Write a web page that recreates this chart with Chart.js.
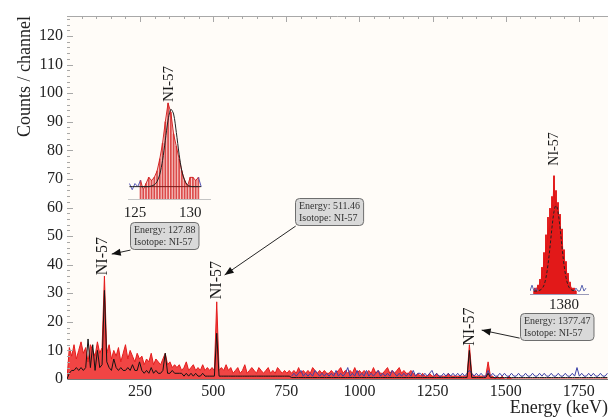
<!DOCTYPE html>
<html>
<head>
<meta charset="utf-8">
<script src="https://cdn.jsdelivr.net/npm/chart.js@4/dist/chart.umd.min.js"></script>
<style>
  html, body { margin: 0; padding: 0; background: #fff; }
  #wrap { position: relative; width: 608px; height: 417px; overflow: hidden; }
  #main { position: absolute; left: 0; top: 0; }
  #inset1 { position: absolute; left: 118px; top: 60px; }
  #inset2 { position: absolute; left: 522px; top: 122px; }
</style>
</head>
<body>
<div id="wrap">
  <canvas id="main" width="608" height="417"></canvas>
  <canvas id="inset1" width="100" height="165"></canvas>
  <canvas id="inset2" width="76" height="190"></canvas>
</div>
<script>
// Spectrum, 8 keV per channel, starting at 0 keV
const channelKeV = 8;
const energyTicks = [250, 500, 750, 1000, 1250, 1500, 1750];

const redCounts = [
  0, 11, 8, 12, 7, 10, 13, 9, 11, 6, 12, 10, 8, 13, 9, 11,
  36, 9, 12, 7, 10, 8, 11, 6, 9, 12, 7, 10, 8, 6, 9, 7,
  8, 5, 7, 6, 9, 5, 7, 6, 5, 7, 9, 5, 6, 4, 5, 4,
  5, 3, 4, 6, 3, 4, 5, 3, 4, 3, 5, 3, 4, 3, 4, 3,
  27, 3, 4, 3, 5, 3, 4, 2, 3, 4, 2, 3, 5, 2, 3, 4,
  3, 2, 4, 3, 2, 3, 4, 2, 3, 2, 4, 3, 2, 3, 2, 3,
  2, 3, 2, 4, 2, 3, 2, 3, 2, 4, 3, 2, 3, 2, 3, 2,
  2, 3, 2, 2, 3, 4, 2, 3, 2, 3, 2, 4, 2, 3, 2, 3,
  2, 3, 2, 4, 2, 3, 2, 2, 3, 4, 2, 3, 2, 3, 4, 2,
  3, 2, 2, 3, 2, 1, 2, 1, 2, 1, 1, 2, 1, 1, 2, 1,
  1, 1, 1, 2, 1, 1, 1, 1, 1, 1, 1, 1, 12, 2, 1, 1,
  1, 1, 1, 1, 6, 1, 1, 0, 1, 0, 1, 0, 0, 1, 0, 0,
  0, 0, 0, 0, 0, 0, 0, 0, 0, 0, 0, 0, 0, 0, 0, 0,
  0, 0, 0, 0, 0, 0, 0, 0, 0, 0, 0, 0, 0, 0, 0, 0,
  0, 0, 0, 0, 0, 0, 0, 0
];

const blackCounts = [
  0, 2, 3, 3, 4, 3, 4, 3, 4, 14, 4, 12, 3, 10, 4, 5,
  31, 6, 4, 3, 7, 4, 3, 4, 3, 3, 4, 3, 5, 3, 3, 6,
  3, 2, 3, 2, 4, 2, 3, 2, 2, 3, 9, 2, 2, 3, 2, 2,
  2, 2, 1, 2, 1, 2, 1, 2, 1, 1, 2, 1, 1, 1, 1, 1,
  16, 1, 1, 1, 1, 1, 1, 1, 1, 1, 1, 1, 1, 1, 1, 1,
  1, 1, 1, 1, 1, 1, 1, 1, 1, 1, 1, 1, 1, 1, 1, 1,
  0.5, 0.5, 0.5, 0.5, 0.5, 0.5, 0.5, 0.5, 0.5, 0.5, 0.5, 0.5, 0.5, 0.5, 0.5, 0.5,
  0.5, 0.5, 0.5, 0.5, 0.5, 0.5, 0.5, 0.5, 0.5, 0.5, 0.5, 0.5, 0.5, 0.5, 0.5, 0.5,
  0.5, 0.5, 0.5, 0.5, 0.5, 0.5, 0.5, 0.5, 0.5, 0.5, 0.5, 0.5, 0.5, 0.5, 0.5, 0.5,
  0.5, 0.5, 0.5, 0.5, 0.5, 0.5, 0.5, 0.5, 0.5, 0.5, 0.5, 0.5, 0.5, 0.5, 0.5, 0.5,
  0.5, 0.5, 0.5, 0.5, 0.5, 0.5, 0.5, 0.5, 0.5, 0.5, 0.5, 0.5, 10, 0.5, 0.5, 0.5,
  0.5, 0.5, 0.5, 0.5, 2, 0.5, 0.5, 0.5, 0.5, 0.5, 0.5, 0.5, 0.5, 0.5, 0.5, 0.5,
  0.5, 0.5, 0.5, 0.5, 0.5, 0.5, 0.5, 0.5, 0.5, 0.5, 0.5, 0.5, 0.5, 0.5, 0.5, 0.5,
  0.5, 0.5, 0.5, 0.5, 0.5, 0.5, 0.5, 0.5, 0.5, 0.5, 0.5, 0.5, 0.5, 0.5, 0.5, 0.5,
  0.5, 0.5, 0.5, 0.5, 0.5, 0.5, 0.5, 0.5
];

// second (blue) spectrum only from 768 keV on
const blueStartKeV = 768;
const blueCounts = [
  1, 2, 1, 2, 3, 1, 2, 1, 2, 1, 3, 2, 1, 2, 1, 2,
  1, 2, 1, 3, 1, 2, 1, 2, 4, 1, 2, 1, 3, 1, 2, 1,
  3, 1, 2, 1, 2, 3, 1, 2, 1, 2, 1, 3, 2, 1, 2, 1,
  2, 1, 2, 1, 3, 1, 2, 2, 1, 2, 1, 2, 3, 1, 2, 1,
  1, 2, 1, 2, 1, 2, 1, 2, 1, 2, 1, 2, 3, 2, 1, 2,
  1, 2, 1, 1, 3, 1, 2, 1, 1, 2, 1, 2, 1, 1, 2, 1,
  1, 2, 1, 1, 2, 1, 1, 2, 1, 1, 2, 1, 2, 1, 1, 2,
  1, 1, 2, 1, 1, 2, 1, 1, 2, 1, 4, 1, 2, 1, 1, 2,
  1, 2, 1, 1, 2, 1, 1, 2
];

// Inset around 127.88 keV
const inset1Energy = [124.5, 124.75, 125, 125.25, 125.5, 125.75, 126, 126.25, 126.5, 126.75,
  127, 127.25, 127.5, 127.75, 128, 128.25, 128.5, 128.75, 129, 129.25,
  129.5, 129.75, 130, 130.25, 130.5, 130.75, 131];
const inset1Counts = [5, 3, 5, 4, 6, 3, 5, 7, 6, 7, 9, 13, 18, 25, 31, 28, 21, 17, 13, 9, 6, 4, 7, 7, 6, 7, 4];
const inset1Fit = [4, 4, 4, 4, 4, 4, 4, 4, 4.2, 4.6, 5.6, 8, 12.5, 19, 25.5, 29, 27.5, 21.5, 14.5, 9, 6, 4.6, 4.1, 4, 4, 4, 4];
const inset1Roi = [125.5, 130.75];
const inset1Background = 4;
const inset1Ticks = [125, 130];

// Inset around 1377.47 keV
const inset2Energy = [1372.5, 1372.75, 1373, 1373.25, 1373.5, 1373.75, 1374, 1374.25, 1374.5, 1374.75,
  1375, 1375.25, 1375.5, 1375.75, 1376, 1376.25, 1376.5, 1376.75, 1377, 1377.25,
  1377.5, 1377.75, 1378, 1378.25, 1378.5, 1378.75, 1379, 1379.25, 1379.5, 1379.75,
  1380, 1380.25, 1380.5, 1380.75, 1381, 1381.25, 1381.5, 1381.75, 1382, 1382.25,
  1382.5, 1382.75, 1383];
const inset2Counts = [1, 2, 1, 2, 3, 2, 5, 3, 9, 6, 14, 8, 20, 12, 26, 15, 29, 22, 33, 30,
  40, 27, 35, 24, 31, 20, 27, 16, 22, 12, 15, 9, 11, 5, 7, 3, 4, 2, 2, 1, 2, 1, 1];
const inset2Fit = [1, 1, 1, 1, 1.1, 1.2, 1.3, 1.5, 1.8, 2.3, 3, 4.1, 5.6, 7.5, 9.9, 12.7, 15.9, 19.3, 22.6, 25.6,
  27.9, 29.5, 30, 29.5, 27.9, 25.6, 22.6, 19.3, 15.9, 12.7, 9.9, 7.5, 5.6, 4.1, 3, 2.3, 1.8, 1.5, 1.3, 1.2, 1.1, 1, 1];
const inset2BlueEnergy = [1371.5, 1372, 1372.5, 1373, 1373.5, 1374, 1382, 1382.5, 1383, 1383.5, 1384, 1384.5, 1385, 1385.5];
const inset2BlueCounts = [1, 3, 1, 2, 1, null, null, 1, 2, 1, 1, 3, 1, 2];
const inset2Ticks = [1380];

const serif = "'Liberation Serif', 'DejaVu Serif', serif";

const toPoints = (start, arr) => arr.map((v, i) => ({x: start + i * channelKeV, y: v}));
const pair = (xs, ys) => xs.map((x, i) => ({x: x, y: ys[i]}));
const fixedTicks = list => s => { s.ticks = list.map(v => ({value: v})); };
const plain = v => String(v);

// peak notes (positions in keV / counts)
const notes = [
  {label: [121, 43], head: [153, 43.7], tail: [217, 45.1], box: [214, 54.9], lines: ['Energy: 127.88', 'Isotope: NI-57']},
  {label: [513, 34.6], head: [539, 36.4], tail: [782, 53.5], box: [778, 63.3], lines: ['Energy: 511.46', 'Isotope: NI-57']},
  {label: [1377, 18.3], head: [1418, 17.1], tail: [1548, 14.3], box: [1548, 23.1], lines: ['Energy: 1377.47', 'Isotope: NI-57']}
];

function drawArrow(ctx, x1, y1, x2, y2){
  const a = Math.atan2(y2 - y1, x2 - x1);
  ctx.beginPath(); ctx.moveTo(x1, y1); ctx.lineTo(x2, y2); ctx.stroke();
  ctx.beginPath();
  ctx.moveTo(x2, y2);
  ctx.lineTo(x2 - 9 * Math.cos(a) + 3.5 * Math.sin(a), y2 - 9 * Math.sin(a) - 3.5 * Math.cos(a));
  ctx.lineTo(x2 - 9 * Math.cos(a) - 3.5 * Math.sin(a), y2 - 9 * Math.sin(a) + 3.5 * Math.cos(a));
  ctx.closePath(); ctx.fill();
}

function vText(ctx, text, x, y, size){
  ctx.save();
  ctx.translate(x, y); ctx.rotate(-Math.PI / 2);
  ctx.font = size + 'px ' + serif;
  ctx.textAlign = 'center'; ctx.textBaseline = 'middle';
  ctx.fillStyle = '#1a1a1a';
  ctx.fillText(text, 0, 0);
  ctx.restore();
}

const decor = {
  id: 'decor',
  beforeDatasetsDraw(chart){
    const {ctx, chartArea: a} = chart;
    ctx.save(); ctx.fillStyle = '#fffcf8';
    ctx.fillRect(a.left, a.top, a.right - a.left, a.bottom - a.top);
    ctx.restore();
  },
  afterDraw(chart){
    const {ctx, chartArea: a, scales: {x, y}} = chart;
    ctx.save();
    // frame with inward ticks
    ctx.strokeStyle = '#a8a8a8'; ctx.lineWidth = 1;
    ctx.beginPath(); ctx.moveTo(a.left, a.top + 0.5); ctx.lineTo(a.right, a.top + 0.5); ctx.stroke();
    ctx.beginPath();
    for (let v = 50; v < x.max; v += 50){
      const px = Math.round(x.getPixelForValue(v)) + 0.5;
      ctx.moveTo(px, a.top); ctx.lineTo(px, a.top + (v % 250 === 0 ? 6 : 3));
    }
    for (let v = 2; v < y.max; v += 2){
      const py = Math.round(y.getPixelForValue(v)) + 0.5;
      ctx.moveTo(a.left, py); ctx.lineTo(a.left + (v % 10 === 0 ? 6 : 3), py);
    }
    ctx.stroke();
    // notes
    notes.forEach(n => {
      vText(ctx, 'NI-57', x.getPixelForValue(n.label[0]), y.getPixelForValue(n.label[1]), 16);
      ctx.strokeStyle = '#262626'; ctx.fillStyle = '#111'; ctx.lineWidth = 1;
      drawArrow(ctx, x.getPixelForValue(n.tail[0]), y.getPixelForValue(n.tail[1]),
        x.getPixelForValue(n.head[0]), y.getPixelForValue(n.head[1]));
      ctx.font = '10px ' + serif;
      const w = Math.max(...n.lines.map(t => ctx.measureText(t).width)) + 7;
      const bx = Math.round(x.getPixelForValue(n.box[0])) + 0.5, by = Math.round(y.getPixelForValue(n.box[1])) + 0.5;
      ctx.beginPath(); ctx.roundRect(bx, by, w, 27, 4);
      ctx.fillStyle = '#d9d9d9'; ctx.fill();
      ctx.strokeStyle = '#6e6e6e'; ctx.stroke();
      ctx.fillStyle = '#333'; ctx.textAlign = 'left'; ctx.textBaseline = 'middle';
      ctx.fillText(n.lines[0], bx + 3.5, by + 8);
      ctx.fillText(n.lines[1], bx + 3.5, by + 19.5);
    });
    ctx.restore();
  }
};

new Chart(document.getElementById('main'), {
  type: 'line',
  data: {
    datasets: [
      {label: 'Fit', data: toPoints(0, blackCounts), borderColor: '#141414', borderWidth: 1, pointRadius: 0, order: 1},
      {label: 'Background', data: toPoints(blueStartKeV, blueCounts), borderColor: '#3b40a8', borderWidth: 1, pointRadius: 0, order: 2},
      {label: 'Spectrum', data: toPoints(0, redCounts), borderColor: '#e41c1c', backgroundColor: 'rgba(238,36,36,0.85)',
        borderWidth: 1, pointRadius: 0, fill: 'origin', order: 3}
    ]
  },
  options: {
    responsive: false, animation: false,
    layout: {padding: {top: 16, left: 0, right: 0, bottom: 0}},
    plugins: {legend: {display: false}, tooltip: {enabled: false}},
    scales: {
      x: {
        type: 'linear', min: 0, max: 1850,
        afterFit: s => { s.height = 38; },
        afterBuildTicks: fixedTicks(energyTicks),
        grid: {drawOnChartArea: false, drawTicks: false},
        border: {display: true, color: '#777'},
        ticks: {autoSkip: false, maxRotation: 0, padding: 3, color: '#222', font: {family: serif, size: 16}, callback: plain},
        title: {display: true, text: 'Energy (keV)', align: 'end', color: '#222', padding: 0,
          font: {family: serif, size: 18, lineHeight: 1}}
      },
      y: {
        type: 'linear', min: 0, max: 127,
        afterFit: s => { s.width = 67; },
        grid: {drawOnChartArea: false, drawTicks: false},
        border: {display: true, color: '#a0a0a0'},
        ticks: {stepSize: 10, autoSkip: false, padding: 4, color: '#222',
          font: {family: serif, size: 16},
          callback: v => v % 10 === 0 ? v : ''},
        title: {display: true, text: 'Counts / channel', align: 'end', color: '#222', padding: {top: 14, bottom: 0},
          font: {family: serif, size: 18, lineHeight: 1.2}}
      }
    }
  },
  plugins: [decor]
});

function insetLabel(energy, offset, size){
  return {
    id: 'insetLabel',
    afterDraw(chart){
      const {ctx, chartArea: a, scales: {x}} = chart;
      vText(ctx, 'NI-57', x.getPixelForValue(energy), a.top - offset, size);
    }
  };
}

// inset 1
const roiIn = e => e >= inset1Roi[0] && e <= inset1Roi[1];
const roiEdge = e => e === inset1Roi[0] || e === inset1Roi[1];
new Chart(document.getElementById('inset1'), {
  type: 'line',
  data: {
    datasets: [
      {data: pair(inset1Energy, inset1Fit), borderColor: '#222', borderWidth: 1, pointRadius: 0, tension: 0.3, order: 1},
      {data: inset1Roi.map(e => ({x: e, y: inset1Background})), borderColor: '#7a1a1a', borderWidth: 1, pointRadius: 0, order: 2},
      {data: pair(inset1Energy, inset1Counts.map((v, i) => (!roiIn(inset1Energy[i]) || roiEdge(inset1Energy[i])) ? v : null)),
        borderColor: '#5a5ab8', borderWidth: 1, pointRadius: 0, spanGaps: false, order: 2},
      {type: 'bar', data: pair(inset1Energy, inset1Counts.map((v, i) => roiIn(inset1Energy[i]) ? v : null)),
        backgroundColor: 'rgba(210,30,30,0.75)', barThickness: 1, order: 3},
      {data: pair(inset1Energy, inset1Counts.map((v, i) => roiIn(inset1Energy[i]) ? v : null)),
        borderColor: '#d42a2a', backgroundColor: 'rgba(240,150,150,0.45)', borderWidth: 1, pointRadius: 0, fill: 'origin', order: 4}
    ]
  },
  options: {
    responsive: false, animation: false,
    layout: {padding: {top: 37, left: 9, right: 8, bottom: 0}},
    plugins: {legend: {display: false}, tooltip: {enabled: false}},
    scales: {
      x: {type: 'linear', min: 124.4, max: 131.8, offset: false,
        afterFit: s => { s.height = 26; },
        afterBuildTicks: fixedTicks(inset1Ticks),
        grid: {drawOnChartArea: false, drawTicks: false},
        border: {display: true, color: '#c4c4c4'},
        ticks: {autoSkip: false, maxRotation: 0, padding: 5, color: '#222', font: {family: serif, size: 15}, callback: plain}},
      y: {display: false, min: 0, max: 33}
    }
  },
  plugins: [insetLabel(128.05, 13, 15)]
});

// inset 2
new Chart(document.getElementById('inset2'), {
  type: 'line',
  data: {
    datasets: [
      {data: pair(inset2Energy, inset2Fit), borderColor: '#222', borderWidth: 1, borderDash: [3, 2], pointRadius: 0, order: 1},
      {data: pair(inset2BlueEnergy, inset2BlueCounts), borderColor: '#5a64b0', borderWidth: 1, pointRadius: 0, spanGaps: false, order: 2},
      {type: 'bar', data: pair(inset2Energy, inset2Counts), backgroundColor: 'rgba(225,20,20,0.9)', barThickness: 1, order: 3},
      {data: pair(inset2Energy, inset2Counts), borderColor: '#e01c1c', backgroundColor: 'rgba(236,70,70,0.7)',
        borderWidth: 1, pointRadius: 0, fill: 'origin', order: 4}
    ]
  },
  options: {
    responsive: false, animation: false,
    layout: {padding: {top: 48, left: 8, right: 10, bottom: 0}},
    plugins: {legend: {display: false}, tooltip: {enabled: false}},
    scales: {
      x: {type: 'linear', min: 1371.5, max: 1386, offset: false,
        afterFit: s => { s.height = 18; },
        afterBuildTicks: fixedTicks(inset2Ticks),
        grid: {drawOnChartArea: false, drawTicks: false},
        border: {display: true, color: '#9a9ab8'},
        ticks: {autoSkip: false, maxRotation: 0, padding: 2, color: '#222', font: {family: serif, size: 15}, callback: plain}},
      y: {display: false, min: 0, max: 42}
    }
  },
  plugins: [insetLabel(1377.5, 21, 14)]
});
</script>
</body>
</html>
